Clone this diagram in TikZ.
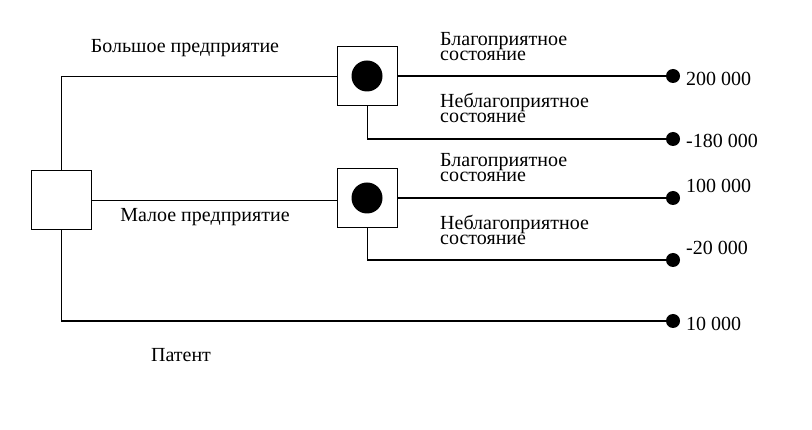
\documentclass[tikz,border=0pt]{standalone}
\usepackage{fontspec}
\setmainfont{Liberation Serif}
\begin{document}
\begin{tikzpicture}[x=1pt,y=-1pt,
  box/.style={draw,thin,fill=white,minimum width=60pt,minimum height=59pt,inner sep=0pt},
  thinl/.style={draw,line width=0.8pt},
  thick1/.style={draw,line width=2.2pt},
  dot/.style={circle,fill=black,inner sep=0pt,minimum size=14pt},
  bigdot/.style={circle,fill=black,inner sep=0pt,minimum size=31pt},
  lbl/.style={font=\fontsize{20}{20}\selectfont,inner sep=0pt},
  st/.style={font=\fontsize{20}{15}\selectfont,inner sep=0pt,align=left,anchor=north west}]
\useasboundingbox (0,0) rectangle (812,430);
\node[box] (r) at (61,200) {};
\node[box] (b1) at (367,76) {};
\node[box] (b2) at (367,198) {};
\node[bigdot] (c1) at (367,76) {};
\node[bigdot] (c2) at (367,198) {};
\node[dot] (e1) at (673,76) {};
\node[dot] (e2) at (673,139) {};
\node[dot] (e3) at (673,198) {};
\node[dot] (e4) at (673,260) {};
\node[dot] (e5) at (673,321) {};
\coordinate (k1) at (61,76);
\coordinate (k2) at (61,321);
\coordinate (k3) at (367,139);
\coordinate (k4) at (367,260);
\draw[thinl] (r.north) -- (k1) -- (b1.west);
\draw[thinl] (r.east) -- (r.east -| b2.west);
\draw[thinl] (r.south) -- (k2);
\draw[thick1] (k2) -- (e5.center);
\draw[thick1] (b1.east) -- (e1.center);
\draw[thinl] (b1.south) -- (k3);
\draw[thick1] (k3) -- (e2.center);
\draw[thick1] (b2.east) -- (e3.center);
\draw[thinl] (b2.south) -- (k4);
\draw[thick1] (k4) -- (e4.center);
\node[lbl] (t1) at (185,48) {Большое предприятие};
\node[lbl] (t2) at (205,217) {Малое предприятие};
\node[lbl] (t3) at (181,355) {Патент};
\node[st] (s1) at (440,32) {Благоприятное\\состояние};
\node[st] (s2) at (440,93) {Неблагоприятное\\состояние};
\node[st] (s3) at (440,153) {Благоприятное\\состояние};
\node[st] (s4) at (440,215) {Неблагоприятное\\состояние};
\node[lbl,anchor=west] (v1) at (686,79) {200 000};
\node[lbl,anchor=west] (v2) at (686,141) {-180 000};
\node[lbl,anchor=west] (v3) at (686,186) {100 000};
\node[lbl,anchor=west] (v4) at (686,248) {-20 000};
\node[lbl,anchor=west] (v5) at (686,324) {10 000};
\end{tikzpicture}
\end{document}
